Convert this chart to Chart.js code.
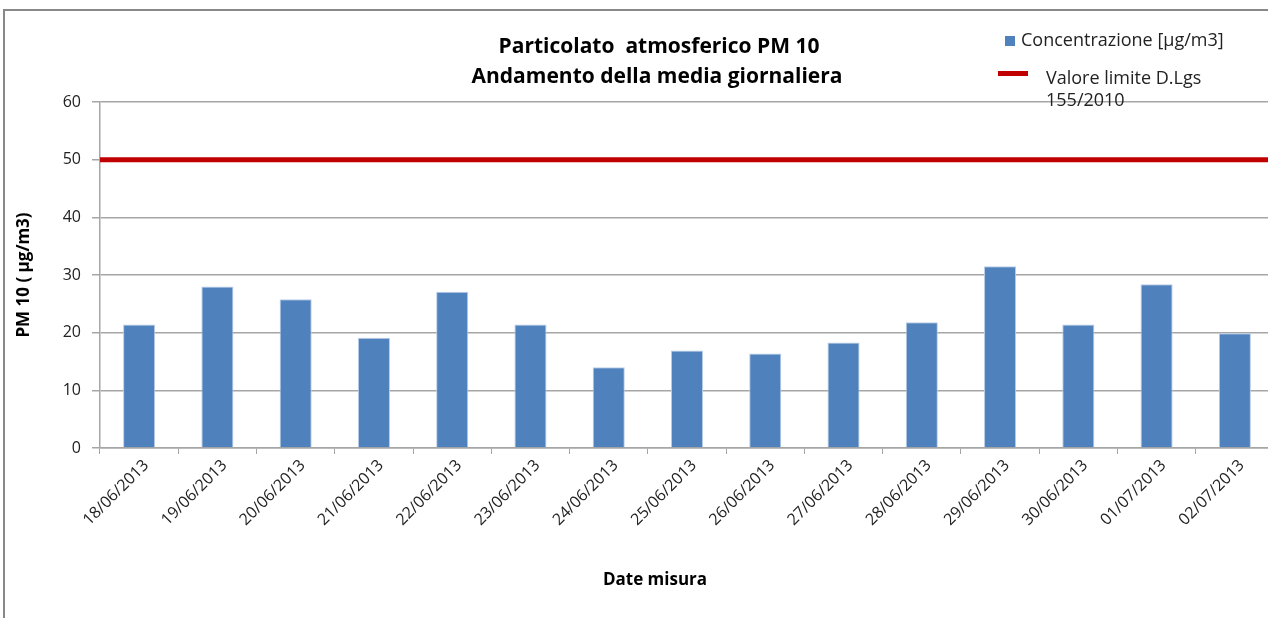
<!DOCTYPE html>
<html>
<head>
<meta charset="utf-8">
<script src="https://cdn.jsdelivr.net/npm/chart.js@4.4.0/dist/chart.umd.min.js"></script>
<style>
  html, body { margin: 0; padding: 0; background: #fff; }
  #wrap { width: 1268px; height: 618px; overflow: hidden; position: relative; }
</style>
</head>
<body>
<div id="wrap"><canvas id="grafico" width="1276" height="618"></canvas></div>
<script>
// dati
const date = ['18/06/2013', '19/06/2013', '20/06/2013', '21/06/2013', '22/06/2013',
  '23/06/2013', '24/06/2013', '25/06/2013', '26/06/2013', '27/06/2013',
  '28/06/2013', '29/06/2013', '30/06/2013', '01/07/2013', '02/07/2013'];
const concentrazione = [21.4, 28.0, 25.8, 19.1, 27.1, 21.4, 14.0, 16.9, 16.4, 18.3, 21.8, 31.5, 21.4, 28.4, 19.9];
const valoreLimite = [50, 50];   // inizio e fine della linea del limite
const yTicks = [0, 10, 20, 30, 40, 50, 60];

const titolo = ['Particolato  atmosferico PM 10', 'Andamento della media giornaliera'];
const titoloX = 'Date misura';
const titoloY = 'PM 10 ( µg/m3)';
const legendaBarre = 'Concentrazione [µg/m3]';
const legendaLimite = ['Valore limite D.Lgs', '155/2010'];

const BLU = '#4F81BD';
const ROSSO = '#C00000';
const GRIGIO = '#a6a6a6';
const FONT = '"Open Sans", "Liberation Sans", sans-serif';

const cornice = {
  id: 'cornice',
  beforeDraw(chart) {
    const c = chart.ctx;
    c.save();
    c.fillStyle = '#fff';
    c.fillRect(0, 0, chart.width, chart.height);
    c.strokeStyle = '#888';
    c.lineWidth = 2;
    c.beginPath();
    c.moveTo(4, 618);
    c.lineTo(4, 10);
    c.lineTo(chart.width, 10);
    c.stroke();
    c.restore();
  },
  afterDraw(chart) {
    const c = chart.ctx;
    c.save();
    // titolo
    c.fillStyle = '#000';
    c.textAlign = 'center';
    c.textBaseline = 'middle';
    c.font = 'bold 21px ' + FONT;
    c.fillText(titolo[0], 659, 47);
    c.fillText(titolo[1], 657, 77);
    // titolo asse x
    c.font = 'bold 17px ' + FONT;
    c.fillText(titoloX, 655, 580);
    // legenda
    c.textAlign = 'left';
    c.font = '18px ' + FONT;
    c.fillStyle = BLU;
    c.fillRect(1005, 36, 10, 10);
    c.fillStyle = '#222';
    c.fillText(legendaBarre, 1021, 41);
    c.strokeStyle = ROSSO;
    c.lineWidth = 5;
    c.beginPath();
    c.moveTo(998, 73.5);
    c.lineTo(1028, 73.5);
    c.stroke();
    c.fillText(legendaLimite[0], 1046, 79);
    c.fillText(legendaLimite[1], 1046, 101);
    c.restore();
  }
};

new Chart(document.getElementById('grafico'), {
  type: 'bar',
  data: {
    labels: date,
    datasets: [{
      label: legendaBarre,
      data: concentrazione,
      backgroundColor: BLU,
      borderColor: '#b9cde8',
      borderWidth: 1,
      barPercentage: 0.41,
      categoryPercentage: 1,
      grouped: false,
      order: 2
    }, {
      type: 'line',
      label: legendaLimite.join(' '),
      data: valoreLimite,
      xAxisID: 'xLim',
      borderColor: ROSSO,
      borderWidth: 5,
      pointRadius: 0,
      order: 1
    }]
  },
  options: {
    responsive: false,
    animation: false,
    layout: { padding: { left: 0, top: 102, right: 2, bottom: 0 } },
    plugins: {
      legend: { display: false },
      title: { display: false },
      tooltip: { enabled: false }
    },
    scales: {
      x: {
        grid: { offset: true, drawOnChartArea: false, color: GRIGIO, tickLength: 6 },
        border: { color: GRIGIO, width: 1.5 },
        ticks: {
          color: '#222',
          font: { family: FONT, size: 16 },
          maxRotation: 45,
          minRotation: 45,
          padding: 2,
          labelOffset: 7,
          autoSkip: false
        },
        afterFit(scale) { scale.height = 170; }
      },
      xLim: {
        type: 'category',
        labels: ['inizio', 'fine'],
        offset: false,
        display: false
      },
      y: {
        min: 0,
        max: 60,
        afterBuildTicks(scale) { scale.ticks = yTicks.map(v => ({ value: v })); },
        grid: { color: GRIGIO, lineWidth: 1.5, tickLength: 8 },
        border: { color: GRIGIO, width: 1.5 },
        ticks: {
          color: '#222',
          font: { family: FONT, size: 16 },
          padding: 11
        },
        title: {
          display: true,
          text: titoloY,
          color: '#000',
          font: { family: FONT, size: 17, weight: 'bold' },
          padding: { top: 14, bottom: 0 }
        },
        afterFit(scale) { scale.width = 100; }
      }
    }
  },
  plugins: [cornice]
});
</script>
</body>
</html>
